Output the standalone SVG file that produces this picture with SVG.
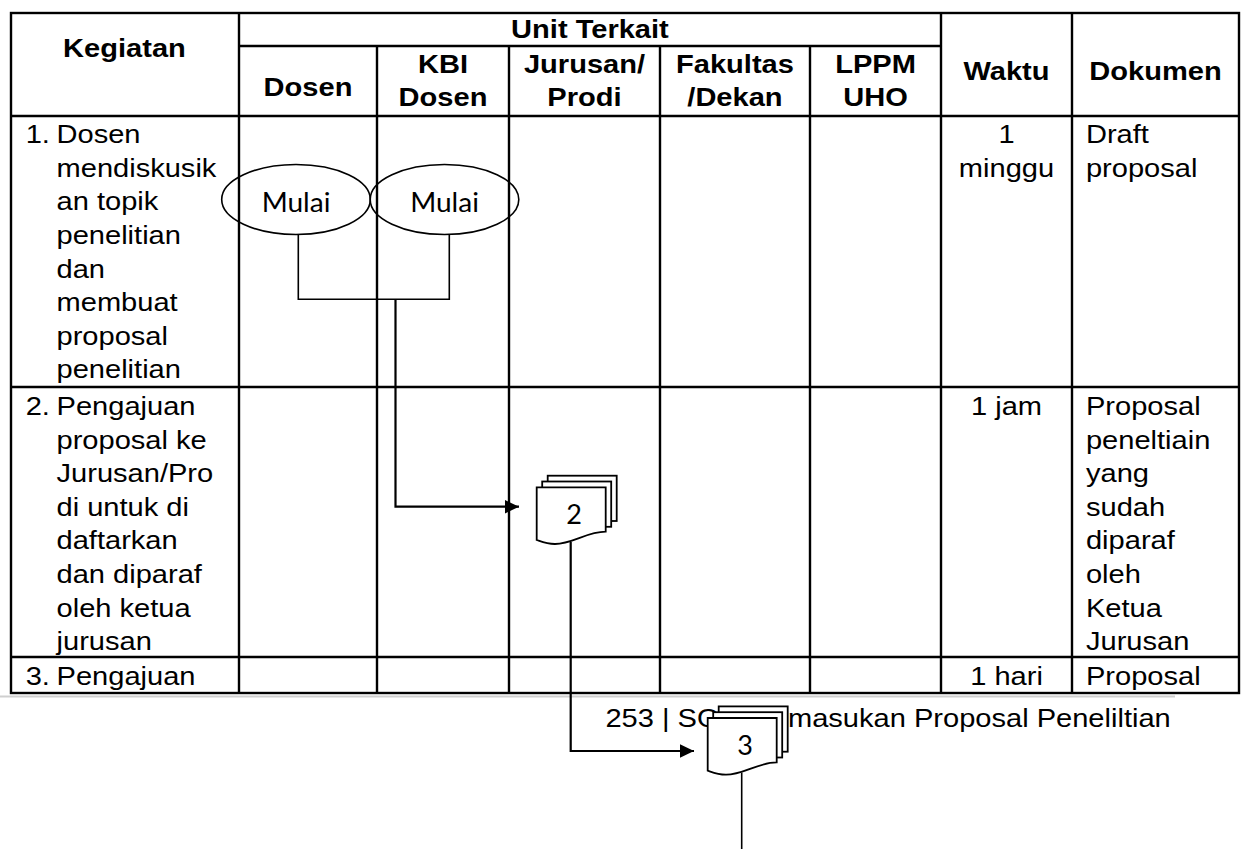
<svg xmlns="http://www.w3.org/2000/svg" xmlns:xlink="http://www.w3.org/1999/xlink" width="1246" height="849" viewBox="0 0 1246 849">
<defs>
<style>
.tl{stroke:#000;stroke-width:2.4;fill:none}
.gl{stroke:#cfcfcf;stroke-width:2}
.tx{font-family:"Liberation Sans",Arial,sans-serif;font-size:25.5px;fill:#000}
.hd{font-weight:bold;text-anchor:middle}
.mid{text-anchor:middle}
.fc{font-family:Lato,"Open Sans",sans-serif;font-size:27px;text-anchor:middle;fill:#000}
.sh{fill:#fff;stroke:#000;stroke-width:1.8}
.el{fill:none;stroke:#000;stroke-width:1.6}
.cn{fill:none;stroke:#000;stroke-width:1.6}
.ca{fill:none;stroke:#000;stroke-width:2.2}
</style>
<marker id="ah" markerUnits="userSpaceOnUse" markerWidth="15" markerHeight="14" refX="14" refY="7" orient="auto"><path d="M0,0.3 L14,7 L0,13.7 Z" fill="#000"/></marker>
<g id="md">
<rect x="11" y="-11.6" width="69" height="45.3" class="sh"/>
<rect x="5.5" y="-5.8" width="69" height="45.3" class="sh"/>
<path class="sh" d="M0,0 H69 V44.4 C50,44.4 35,57 18,56.7 C10,56.5 4,54 0,52.7 Z"/>
</g>
</defs>
<rect width="1246" height="849" fill="#fff"/>
<g id="table">
<rect class="tl" x="11" y="13" width="1228" height="680"/>
<path class="tl" d="M239,46 H941 M11,116 H1239 M11,387 H1239 M11,657 H1239 M239,13 V693 M377,46 V693 M509,46 V693 M660,46 V693 M810,46 V693 M941,13 V693 M1072,13 V693"/>
<line class="gl" x1="0" y1="696.5" x2="1175" y2="696.5"/>
</g>
<g id="labels" class="tx" transform="scale(1.14,1)">
<text class="hd" x="517.5" y="38">Unit Terkait</text>
<text class="hd" x="109.2" y="57">Kegiatan</text>
<text class="hd" x="270.2" y="96">Dosen</text>
<text class="hd" x="388.6" y="73">KBI<tspan x="388.6" dy="33.5">Dosen</tspan></text>
<text class="hd" x="512.7" y="73">Jurusan/<tspan x="512.7" dy="33.5">Prodi</tspan></text>
<text class="hd" x="644.7" y="73">Fakultas<tspan x="644.7" dy="33.5">/Dekan</tspan></text>
<text class="hd" x="768" y="73">LPPM<tspan x="768" dy="33.5">UHO</tspan></text>
<text class="hd" x="882.9" y="80">Waktu</text>
<text class="hd" x="1013.6" y="80">Dokumen</text>

<text x="22.5" y="143.3">1.</text>
<text y="143.3"><tspan x="49.6">Dosen</tspan><tspan x="49.6" dy="33.6">mendiskusik</tspan><tspan x="49.6" dy="33.6">an topik</tspan><tspan x="49.6" dy="33.6">penelitian</tspan><tspan x="49.6" dy="33.6">dan</tspan><tspan x="49.6" dy="33.6">membuat</tspan><tspan x="49.6" dy="33.6">proposal</tspan><tspan x="49.6" dy="33.6">penelitian</tspan></text>
<text class="mid" y="143.3"><tspan x="882.9">1</tspan><tspan x="882.9" dy="33.6">minggu</tspan></text>
<text y="143.3"><tspan x="952.6">Draft</tspan><tspan x="952.6" dy="33.6">proposal</tspan></text>

<text x="22.5" y="415">2.</text>
<text y="415"><tspan x="49.6">Pengajuan</tspan><tspan x="49.6" dy="33.6">proposal ke</tspan><tspan x="49.6" dy="33.6">Jurusan/Pro</tspan><tspan x="49.6" dy="33.6">di untuk di</tspan><tspan x="49.6" dy="33.6">daftarkan</tspan><tspan x="49.6" dy="33.6">dan diparaf</tspan><tspan x="49.6" dy="33.6">oleh ketua</tspan><tspan x="49.6" dy="33.6">jurusan</tspan></text>
<text class="mid" x="882.9" y="415">1 jam</text>
<text y="415"><tspan x="952.6">Proposal</tspan><tspan x="952.6" dy="33.6">peneltiain</tspan><tspan x="952.6" dy="33.6">yang</tspan><tspan x="952.6" dy="33.6">sudah</tspan><tspan x="952.6" dy="33.6">diparaf</tspan><tspan x="952.6" dy="33.6">oleh</tspan><tspan x="952.6" dy="33.6">Ketua</tspan><tspan x="952.6" dy="33.6">Jurusan</tspan></text>

<text x="22.5" y="685">3.</text>
<text x="49.6" y="685">Pengajuan</text>
<text class="mid" x="882.9" y="685">1 hari</text>
<text x="952.6" y="685">Proposal</text>

<text x="531.1" y="726.7">253 | SOP Pe<tspan x="691.2">masukan Proposal Peneliltian</tspan></text>
</g>
<g id="connectors">
<path class="cn" d="M298.3,234.4 V299.3 H449.3 V234.4"/>
<path class="ca" d="M395.5,299.3 V506.7 H519" marker-end="url(#ah)"/>
<path class="ca" d="M570.7,542 V751 H694" marker-end="url(#ah)"/>
<path class="cn" d="M741.7,772.5 V849"/>
</g>
<g id="start-dosen">
<ellipse class="el" cx="296" cy="199.5" rx="74.3" ry="35"/>
<text class="fc" transform="translate(296,212) scale(1.04,1)">Mulai</text>
</g>
<g id="start-kbi">
<ellipse class="el" cx="444.5" cy="199.5" rx="74.3" ry="35"/>
<text class="fc" transform="translate(444.5,212) scale(1.04,1)">Mulai</text>
</g>
<g id="doc2">
<use xlink:href="#md" href="#md" x="536.7" y="487.3"/>
<text class="fc" x="574" y="524">2</text>
</g>
<g id="doc3">
<use xlink:href="#md" href="#md" x="707.7" y="718"/>
<text class="fc" x="745" y="755">3</text>
</g>
</svg>
